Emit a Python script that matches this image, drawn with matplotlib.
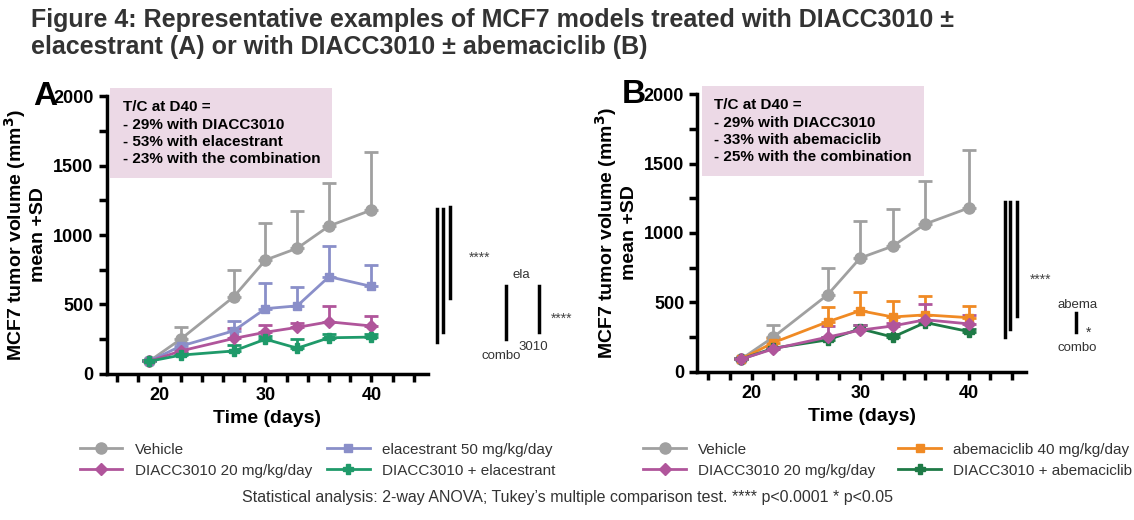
import matplotlib
matplotlib.use("Agg")
import matplotlib.pyplot as plt
from matplotlib.lines import Line2D

plt.rcParams['font.family'] = ['Liberation Sans', 'DejaVu Sans']

days = [19, 22, 27, 30, 33, 36, 40]
veh = [90, 250, 555, 820, 905, 1065, 1180]
veh_sd = [10, 85, 190, 265, 265, 310, 415]
ela = [90, 200, 310, 470, 490, 700, 630]
ela_sd = [10, 20, 70, 185, 135, 220, 155]
dia_a = [90, 165, 255, 300, 335, 375, 345]
dia_a_sd = [10, 15, 75, 50, 35, 115, 70]
combo_a = [90, 135, 165, 250, 185, 260, 265]
combo_a_sd = [10, 15, 45, 20, 65, 30, 20]
abema = [90, 210, 360, 440, 395, 410, 390]
abema_sd = [10, 30, 110, 135, 115, 135, 85]
dia_b = [90, 165, 250, 300, 330, 375, 345]
dia_b_sd = [10, 15, 80, 40, 20, 115, 65]
combo_b = [90, 170, 230, 310, 250, 355, 290]
combo_b_sd = [10, 10, 20, 25, 20, 20, 20]

GRAY = "#a0a0a0"; BLUE = "#8a8fc9"; MAG = "#b0559b"; GRN = "#1f9a6a"; ORA = "#f08a24"; DGRN = "#1e7a46"

fig = plt.figure(figsize=(11.34, 5.2), dpi=100)
fig.text(0.027, 0.985, "Figure 4: Representative examples of MCF7 models treated with DIACC3010 ±\nelacestrant (A) or with DIACC3010 ± abemaciclib (B)",
         ha="left", va="top", fontsize=18, fontweight="bold", color="#333333", linespacing=1.15)

def panel(rect, letter, series, box_lines):
    ax = fig.add_axes(rect)
    for y, sd, c, m, ms in series:
        ax.errorbar(days, y, yerr=[[0]*len(sd), sd], color=c, marker=m, ms=ms, lw=2,
                    capsize=5, capthick=2, elinewidth=2)
    ax.set_xlim(15, 45.3); ax.set_ylim(0, 2000)
    ax.set_xticks([20, 30, 40]); ax.set_xticks(range(16, 45, 2), minor=True)
    ax.set_yticks([0, 500, 1000, 1500, 2000]); ax.set_yticks(range(250, 2000, 500), minor=True)
    for s in ["top", "right"]: ax.spines[s].set_visible(False)
    for s in ["left", "bottom"]: ax.spines[s].set_linewidth(2.5)
    ax.tick_params(which="both", width=2.5, length=6, labelsize=13)
    for t in ax.get_xticklabels() + ax.get_yticklabels(): t.set_fontweight("bold")
    ax.set_xlabel("Time (days)", fontsize=14, fontweight="bold")
    ax.set_ylabel("MCF7 tumor volume (mm$^\\mathbf{3}$)\nmean +SD", fontsize=14, fontweight="bold")
    ax.text(-0.23, 1.0, letter, transform=ax.transAxes, fontsize=24, fontweight="bold", va="center", ha="left")
    ax.text(0.05, 0.985, box_lines, transform=ax.transAxes, va="top", ha="left", fontsize=11,
            fontweight="bold", linespacing=1.3,
            bbox=dict(boxstyle="square,pad=0.8", fc="#ecd9e6", ec="none"))
    return ax

ax1 = panel([0.094, 0.281, 0.283, 0.534], "A",
            [(veh, veh_sd, GRAY, "o", 8), (ela, ela_sd, BLUE, "s", 6),
             (dia_a, dia_a_sd, MAG, "D", 6), (combo_a, combo_a_sd, GRN, "P", 7)],
            "T/C at D40 =\n- 29% with DIACC3010\n- 53% with elacestrant\n- 23% with the combination")
for x, y0, y1 in [(46.2, 230, 1190), (46.8, 300, 1190), (47.4, 550, 1200), (52.7, 250, 630), (55.8, 300, 630)]:
    ax1.plot([x, x], [y0, y1], color="black", lw=2.5, clip_on=False)
ax1.text(49.2, 835, "****", fontsize=10, color="#444444", va="center")
ax1.text(54.2, 690, "ela", fontsize=9.5, ha="center", color="#333333")
ax1.text(52.3, 110, "combo", fontsize=9.5, ha="center", color="#333333")
ax1.text(55.3, 175, "3010", fontsize=9.5, ha="center", color="#333333")
ax1.text(56.9, 400, "****", fontsize=10, color="#444444", va="center")

ax2 = panel([0.615, 0.285, 0.29, 0.534], "B",
            [(veh, veh_sd, GRAY, "o", 8), (abema, abema_sd, ORA, "s", 6),
             (combo_b, combo_b_sd, DGRN, "P", 7), (dia_b, dia_b_sd, MAG, "D", 6)],
            "T/C at D40 =\n- 29% with DIACC3010\n- 33% with abemaciclib\n- 25% with the combination")
for x, y0, y1 in [(43.3, 250, 1220), (43.8, 310, 1220), (44.4, 400, 1220), (49.9, 290, 420)]:
    ax2.plot([x, x], [y0, y1], color="black", lw=2.5, clip_on=False)
ax2.text(45.6, 660, "****", fontsize=10, color="#444444", va="center")
ax2.text(50.0, 460, "abema", fontsize=9.5, ha="center", color="#333333")
ax2.text(51.0, 250, "*", fontsize=10, ha="center", color="#333333")
ax2.text(50.0, 150, "combo", fontsize=9.5, ha="center", color="#333333")

def h(c, m, ms):
    return Line2D([], [], color=c, marker=m, ms=ms, lw=2)

fig.legend([h(GRAY, "o", 8), h(MAG, "D", 6), h(BLUE, "s", 6), h(GRN, "P", 7)],
           ["Vehicle", "DIACC3010 20 mg/kg/day", "elacestrant 50 mg/kg/day", "DIACC3010 + elacestrant"],
           loc="upper left", bbox_to_anchor=(0.058, 0.175), ncol=2, frameon=False, fontsize=11,
           handlelength=2.8, columnspacing=1.0, labelspacing=0.45, labelcolor="#333333")
fig.legend([h(GRAY, "o", 8), h(MAG, "D", 6), h(ORA, "s", 6), h(DGRN, "P", 7)],
           ["Vehicle", "DIACC3010 20 mg/kg/day", "abemaciclib 40 mg/kg/day", "DIACC3010 + abemaciclib"],
           loc="upper left", bbox_to_anchor=(0.555, 0.175), ncol=2, frameon=False, fontsize=11,
           handlelength=2.8, columnspacing=1.5, labelspacing=0.45, labelcolor="#333333")
fig.text(0.5, 0.035, "Statistical analysis: 2-way ANOVA; Tukey’s multiple comparison test. **** p<0.0001 * p<0.05",
         ha="center", fontsize=11.5, color="#333333")
fig.savefig("out.png", dpi=100)
